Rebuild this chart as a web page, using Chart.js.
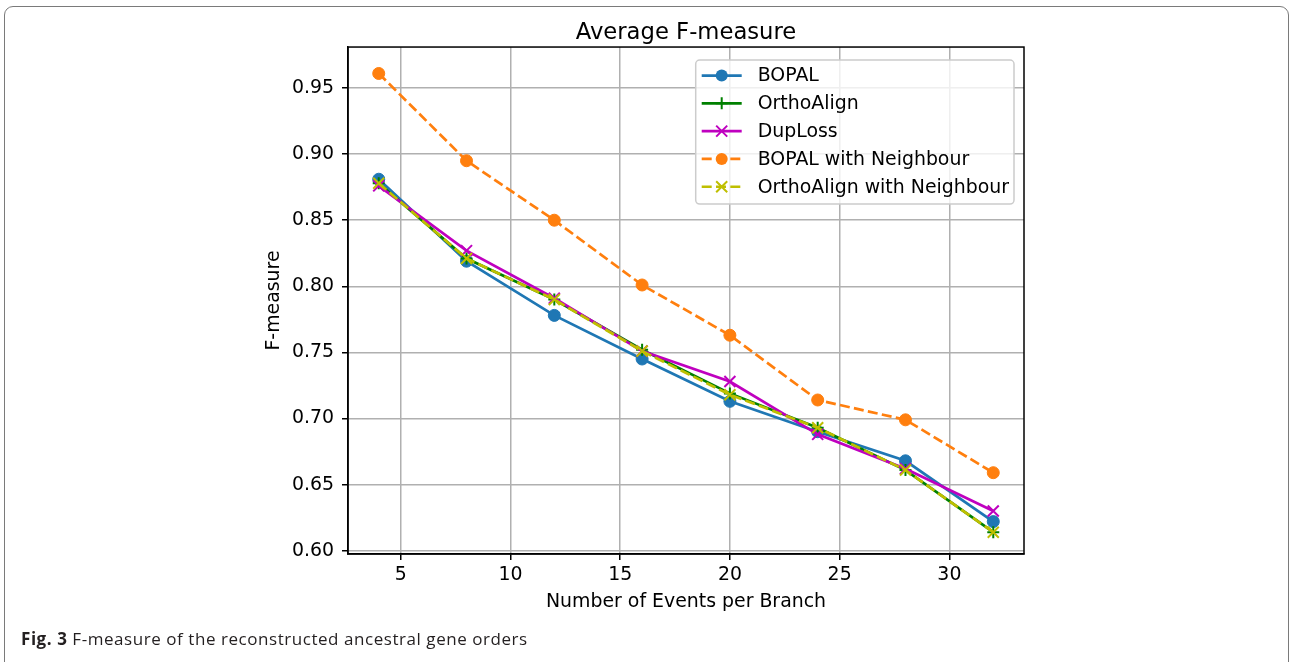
<!DOCTYPE html>
<html>
<head>
<meta charset="utf-8">
<title>Average F-measure</title>
<script src="https://cdn.jsdelivr.net/npm/chart.js@4.4.1/dist/chart.umd.min.js"></script>
<style>
    html, body { margin: 0; padding: 0; background: #fff; }
    #moldura {
        position: absolute; left: 4px; top: 6px; width: 1285px; height: 720px;
        border: 1px solid #7a7a7a; border-radius: 9px; box-sizing: border-box;
    }
    #grafico-container { position: absolute; left: 0; top: 0; width: 1290px; height: 662px; }
    #legenda-figura {
        position: absolute; left: 21px; top: 630px; line-height: 17px;
        font-family: "Open Sans", sans-serif; font-size: 17px; letter-spacing: 0.55px; color: #231f20;
        white-space: nowrap;
    }
</style>
</head>
<body>
<div id="moldura"></div>
<div id="grafico-container"><canvas id="graficoF"></canvas></div>
<div id="legenda-figura"><b>Fig. 3</b> F-measure of the reconstructed ancestral gene orders</div>

<script>
// Dados
const eventos = [4, 8, 12, 16, 20, 24, 28, 32];

const bopal = [0.881, 0.819, 0.778, 0.745, 0.713, 0.690, 0.668, 0.622];
const orthoAlign = [0.878, 0.821, 0.790, 0.752, 0.719, 0.693, 0.661, 0.614];
const dupLoss = [0.876, 0.827, 0.791, 0.751, 0.728, 0.688, 0.662, 0.630];
const bopalVizinho = [0.961, 0.895, 0.850, 0.801, 0.763, 0.714, 0.699, 0.659];
const orthoAlignVizinho = [0.878, 0.821, 0.790, 0.751, 0.718, 0.693, 0.661, 0.614];

const ticksX = [5, 10, 15, 20, 25, 30];
const ticksY = [0.60, 0.65, 0.70, 0.75, 0.80, 0.85, 0.90, 0.95];

const series = [
    { nome: 'BOPAL', valores: bopal, cor: '#1f77b4', marcador: 'circle', tracejado: [] },
    { nome: 'OrthoAlign', valores: orthoAlign, cor: '#008000', marcador: 'cross', tracejado: [] },
    { nome: 'DupLoss', valores: dupLoss, cor: '#bf00bf', marcador: 'crossRot', tracejado: [] },
    { nome: 'BOPAL with Neighbour', valores: bopalVizinho, cor: '#ff7f0e', marcador: 'circle', tracejado: [10, 4.3] },
    { nome: 'OrthoAlign with Neighbour', valores: orthoAlignVizinho, cor: '#bfbf00', marcador: 'crossRot', tracejado: [10, 4.3] }
];

const TAM_FONTE = 18.9;

/* ------------------------------------------------------------------ */
/*                     FUNÇÕES DE APOIO                               */
/* ------------------------------------------------------------------ */

function raioMarcador(marcador) {
    if (marcador === 'circle') return 6;
    if (marcador === 'crossRot') return 7.8;
    return 6;
}

function desenharMarcador(ctx, marcador, x, y, cor) {
    const r = raioMarcador(marcador);
    ctx.save();
    ctx.setLineDash([]);
    ctx.strokeStyle = cor;
    ctx.fillStyle = cor;
    ctx.lineWidth = 2;
    ctx.beginPath();
    if (marcador === 'circle') {
        ctx.arc(x, y, r, 0, Math.PI * 2);
        ctx.fill();
    } else if (marcador === 'cross') {
        ctx.moveTo(x - r, y); ctx.lineTo(x + r, y);
        ctx.moveTo(x, y - r); ctx.lineTo(x, y + r);
        ctx.stroke();
    } else {
        const d = r * Math.SQRT1_2;
        ctx.moveTo(x - d, y - d); ctx.lineTo(x + d, y + d);
        ctx.moveTo(x - d, y + d); ctx.lineTo(x + d, y - d);
        ctx.stroke();
    }
    ctx.restore();
}

// Moldura superior/direita do eixo (estilo matplotlib)
const pluginMoldura = {
    id: 'moldura',
    afterDatasetsDraw(chart) {
        const { ctx, chartArea: a } = chart;
        ctx.save();
        ctx.strokeStyle = '#000';
        ctx.lineWidth = 1.5;
        ctx.strokeRect(a.left, a.top, a.right - a.left, a.bottom - a.top);
        ctx.restore();
    }
};

// Legenda dentro da área do gráfico, canto superior direito
const pluginLegenda = {
    id: 'legendaInterna',
    afterDraw(chart) {
        const { ctx, chartArea: a } = chart;
        ctx.save();
        ctx.font = TAM_FONTE + 'px "DejaVu Sans"';
        const larguraTexto = Math.max(...series.map(s => ctx.measureText(s.nome).width));
        const largura = 62 + larguraTexto + 5;
        const altura = 144;
        const esq = a.right - 10 - largura;
        const topo = a.top + 13;

        ctx.beginPath();
        ctx.roundRect(esq, topo, largura, altura, 4);
        ctx.fillStyle = 'rgba(255,255,255,0.8)';
        ctx.fill();
        ctx.strokeStyle = '#cccccc';
        ctx.lineWidth = 1.5;
        ctx.stroke();

        series.forEach((s, i) => {
            const y = topo + 15.5 + i * 27.8;
            ctx.beginPath();
            ctx.setLineDash(s.tracejado);
            ctx.strokeStyle = s.cor;
            ctx.lineWidth = 2.7;
            ctx.moveTo(esq + 6, y);
            ctx.lineTo(esq + 46, y);
            ctx.stroke();
            desenharMarcador(ctx, s.marcador, esq + 26, y, s.cor);
            ctx.fillStyle = '#000';
            ctx.textBaseline = 'middle';
            ctx.fillText(s.nome, esq + 62, y + 1);
        });
        ctx.restore();
    }
};

function montarDatasets() {
    return series.map((s, i) => ({
        label: s.nome,
        data: eventos.map((x, j) => ({ x: x, y: s.valores[j] })),
        borderColor: s.cor,
        backgroundColor: s.cor,
        borderWidth: 2.7,
        borderDash: s.tracejado,
        pointStyle: s.marcador,
        pointRadius: raioMarcador(s.marcador),
        pointBorderWidth: s.marcador === 'circle' ? 1 : 2,
        pointBorderColor: s.cor,
        pointBackgroundColor: s.cor,
        fill: false,
        tension: 0,
        order: series.length - i
    }));
}

function desenharGrafico() {
    Chart.defaults.font.family = '"DejaVu Sans", sans-serif';
    Chart.defaults.color = '#000';

    const ctx = document.getElementById('graficoF').getContext('2d');

    new Chart(ctx, {
        type: 'line',
        data: { datasets: montarDatasets() },
        plugins: [pluginMoldura, pluginLegenda],
        options: {
            responsive: true,
            maintainAspectRatio: false,
            animation: false,
            events: [],
            layout: { padding: { left: 260, right: 266, top: 0, bottom: 46 } },
            scales: {
                x: {
                    type: 'linear',
                    min: 2.6,
                    max: 33.4,
                    afterBuildTicks: escala => { escala.ticks = ticksX.map(v => ({ value: v })); },
                    afterFit: escala => { escala.height = 62; },
                    grid: { color: '#b0b0b0', lineWidth: 1.5, tickLength: 6, tickColor: '#000', tickWidth: 1.5 },
                    border: { color: '#000', width: 1.5 },
                    ticks: {
                        autoSkip: false, maxRotation: 0, padding: 4,
                        font: { size: TAM_FONTE },
                        callback: valor => String(valor)
                    },
                    title: {
                        display: true, text: 'Number of Events per Branch',
                        font: { size: TAM_FONTE }, padding: { top: 0, bottom: 3 }
                    }
                },
                y: {
                    type: 'linear',
                    min: 0.5975,
                    max: 0.981,
                    afterBuildTicks: escala => { escala.ticks = ticksY.map(v => ({ value: v })); },
                    afterFit: escala => { escala.width = 88; },
                    grid: { color: '#b0b0b0', lineWidth: 1.5, tickLength: 6, tickColor: '#000', tickWidth: 1.5 },
                    border: { color: '#000', width: 1.5 },
                    ticks: {
                        autoSkip: false, padding: 8,
                        font: { size: TAM_FONTE },
                        callback: valor => valor.toFixed(2)
                    },
                    title: {
                        display: true, text: 'F-measure',
                        font: { size: TAM_FONTE }, padding: { top: 3, bottom: 0 }
                    }
                }
            },
            plugins: {
                legend: { display: false },
                tooltip: { enabled: false },
                title: {
                    display: true,
                    fullSize: false,
                    text: 'Average F-measure',
                    font: { size: 22.7, weight: 'normal' },
                    padding: { top: 19.5, bottom: 0.3 }
                }
            }
        }
    });
}

desenharGrafico();
</script>
</body>
</html>
